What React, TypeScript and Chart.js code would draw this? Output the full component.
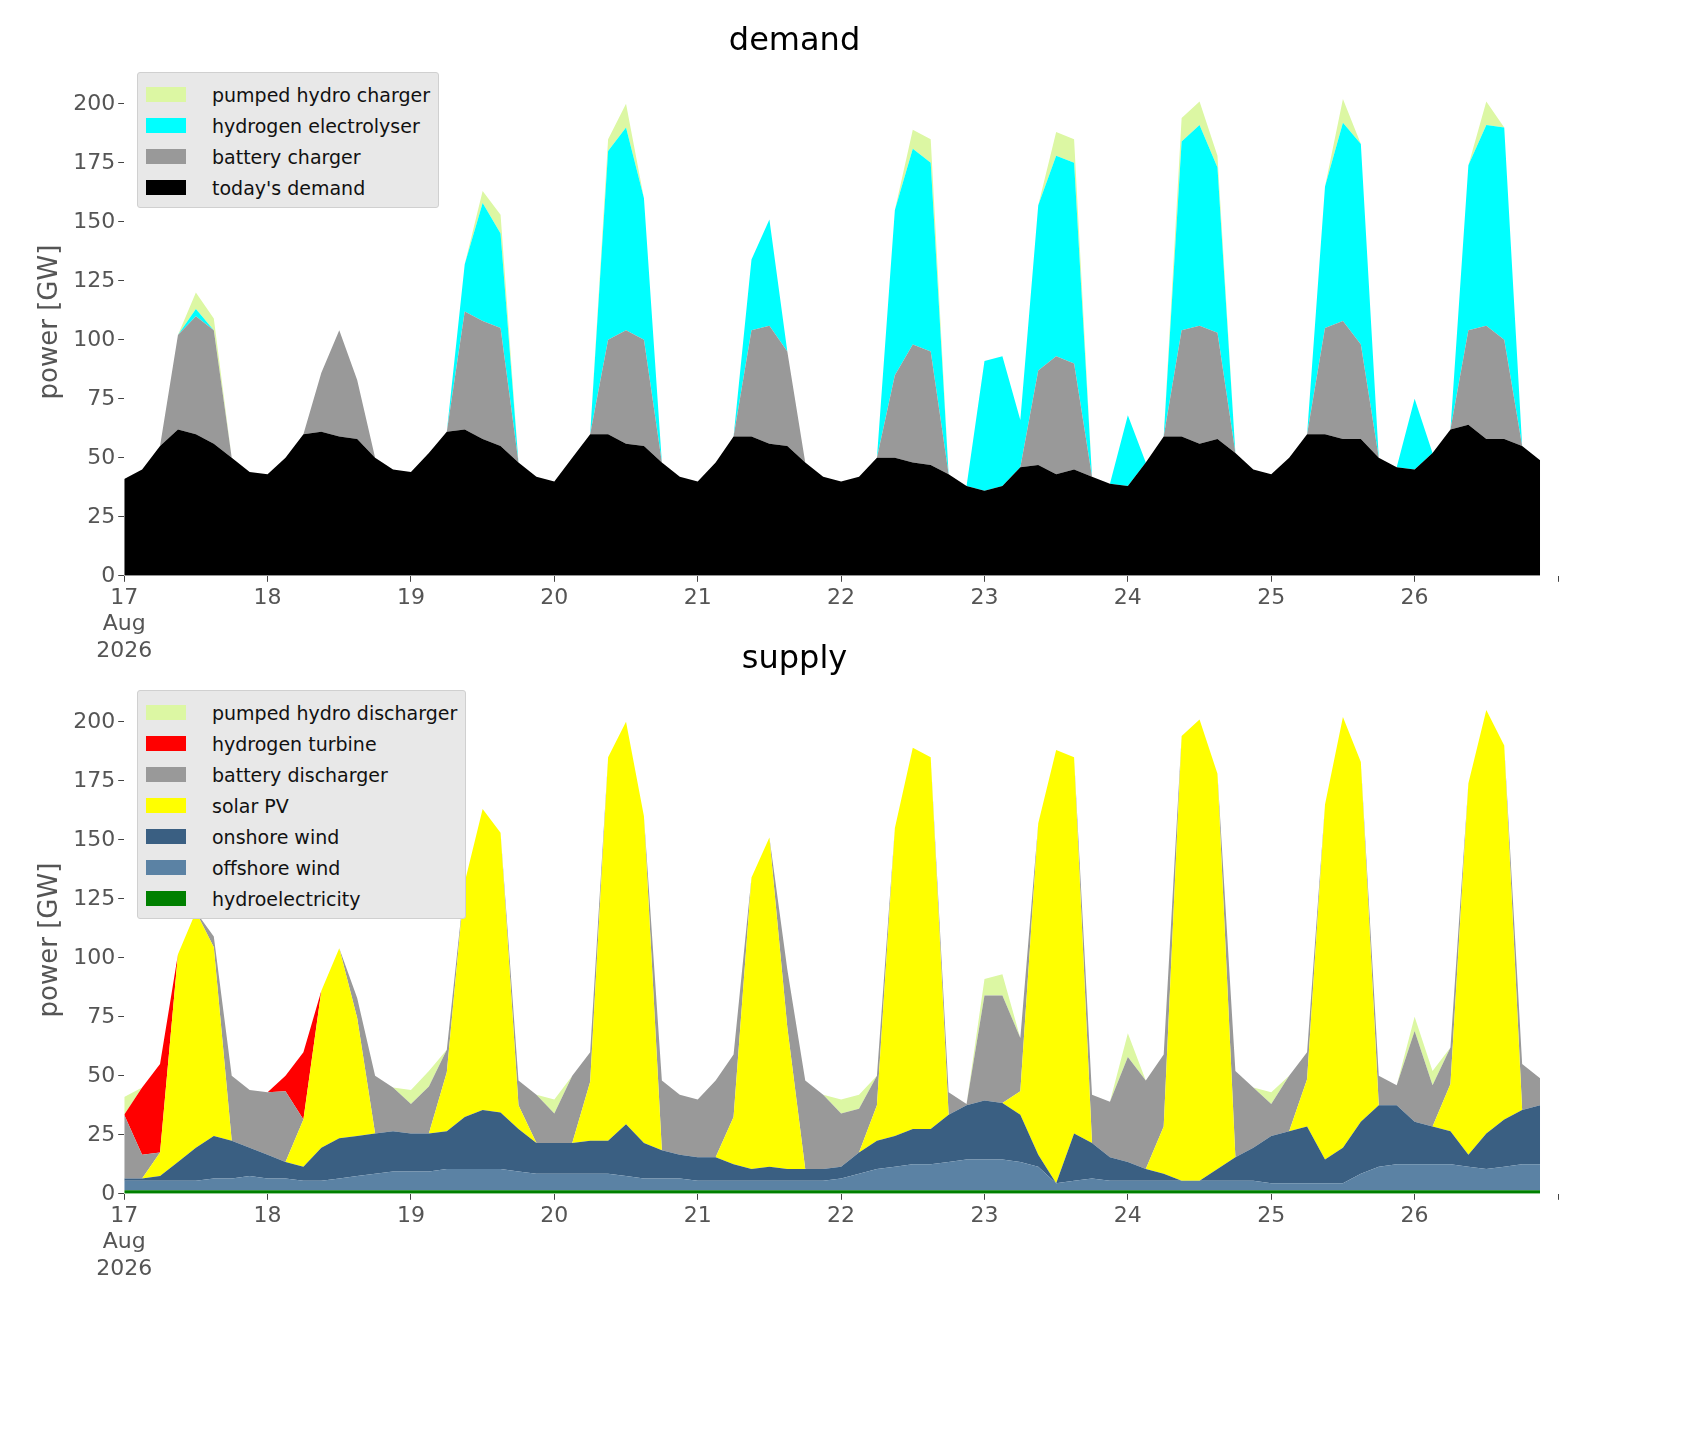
import React, { useEffect, useRef } from "react";
import { Chart, registerables } from "chart.js";
Chart.register(...registerables);

// hours since 17 Aug 2026 00:00, 3-hourly
const hours: number[] = [
  0,3,6,9,12,15,18,21, 24,27,30,33,36,39,42,45, 48,51,54,57,60,63,66,69, 72,75,78,81,84,87,90,93,
  96,99,102,105,108,111,114,117, 120,123,126,129,132,135,138,141, 144,147,150,153,156,159,162,165,
  168,171,174,177,180,183,186,189, 192,195,198,201,204,207,210,213, 216,219,222,225,228,231,234,237,
];
const dayTicks: string[] = ["17", "18", "19", "20", "21", "22", "23", "24", "25", "26"];

// demand (GW)
const todaysDemand: number[] = [
  41,45,55,62,60,56,50,44, 43,50,60,61,59,58,50,45, 44,52,61,62,58,55,48,42, 40,50,60,60,56,55,48,42,
  40,48,59,59,56,55,48,42, 40,42,50,50,48,47,43,38, 36,38,46,47,43,45,42,39, 38,48,59,59,56,58,52,45,
  43,50,60,60,58,58,50,46, 45,52,62,64,58,58,55,49,
];
const batteryCharger: number[] = [
  0,0,0,40,50,48,0,0, 0,0,0,25,45,25,0,0, 0,0,0,50,50,50,0,0, 0,0,0,40,48,45,0,0,
  0,0,0,45,50,40,0,0, 0,0,0,35,50,48,0,0, 0,0,0,40,50,45,0,0, 0,0,0,45,50,45,0,0,
  0,0,0,45,50,40,0,0, 0,0,0,40,48,42,0,0,
];
const electrolyser: number[] = [
  0,0,0,0,3,0,0,0, 0,0,0,0,0,0,0,0, 0,0,0,20,50,40,0,0, 0,0,0,80,86,60,0,0,
  0,0,0,30,45,0,0,0, 0,0,0,70,83,80,0,0, 55,55,20,70,85,85,0,0, 30,0,0,80,85,70,0,0,
  0,0,0,60,84,85,0,0, 30,0,0,70,85,90,0,0,
];
const pumpedCharger: number[] = [
  0,0,0,0,7,5,0,0, 0,0,0,0,0,0,0,0, 0,0,0,0,5,8,0,0, 0,0,0,5,10,0,0,0,
  0,0,0,0,0,0,0,0, 0,0,0,0,8,10,0,0, 0,0,0,0,10,10,0,0, 0,0,0,10,10,5,0,0,
  0,0,0,0,10,0,0,0, 0,0,0,0,10,0,0,0,
];

// supply (GW)
const hydro: number[] = [
  1.5,1.5,1.5,1.5,1.5,1.5,1.5,1.5, 1.5,1.5,1.5,1.5,1.5,1.5,1.5,1.5, 1.5,1.5,1.5,1.5,1.5,1.5,1.5,1.5,
  1.5,1.5,1.5,1.5,1.5,1.5,1.5,1.5, 1.5,1.5,1.5,1.5,1.5,1.5,1.5,1.5, 1.5,1.5,1.5,1.5,1.5,1.5,1.5,1.5,
  1.5,1.5,1.5,1.5,1.5,1.5,1.5,1.5, 1.5,1.5,1.5,1.5,1.5,1.5,1.5,1.5, 1.5,1.5,1.5,1.5,1.5,1.5,1.5,1.5,
  1.5,1.5,1.5,1.5,1.5,1.5,1.5,1.5,
];
const offshore: number[] = [
  4,4,4,4,4,5,5,6, 5,5,4,4,5,6,7,8, 8,8,9,9,9,9,8,7, 7,7,7,7,6,5,5,5,
  4,4,4,4,4,4,4,4, 5,7,9,10,11,11,12,13, 13,13,12,10,3,4,5,4, 4,4,4,4,4,4,4,4,
  3,3,3,3,3,7,10,11, 11,11,11,10,9,10,11,11,
];
const onshore: number[] = [
  1,1,2,8,14,18,16,12, 10,7,6,14,17,17,17,17, 16,16,16,22,25,24,18,13, 13,13,14,14,22,15,12,10,
  10,10,7,5,6,5,5,5, 5,9,12,13,15,15,20,23, 25,24,20,5,0,20,15,10, 8,5,3,0,0,5,10,14,
  20,22,24,10,15,22,26,25, 18,16,14,5,15,20,23,25,
];
const solar: number[] = [
  0,0,10,88,100,80,0,0, 0,0,20,66.5,80.5,50,0,0, 0,0,25,99.5,127.5,118.5,10,0, 0,0,25,162.5,170.5,138.5,0,0,
  0,0,20,123.5,139.5,60,0,0, 0,0,15,130.5,161.5,157.5,0,0, 0,0,10,140.5,183.5,159.5,0,0, 0,0,20,188.5,195.5,167.5,0,0,
  0,0,20,150.5,182.5,152.5,0,0, 0,0,20,157.5,179.5,158.5,0,0,
];
const batteryDischarger: number[] = [
  27,10,0,0,0,4.5,27.5,24.5, 26.5,30,0,0,0,8.5,24.5,18.5, 12.5,20,9.5,0,0,0,10.5,20.5, 12.5,28.5,12.5,0,0,0,29.5,25.5,
  24.5,32.5,26.5,0,0,24.5,37.5,31.5, 22.5,18.5,12.5,0,0,0,9.5,0.5, 44.5,45.5,22.5,0,0,0,20.5,23.5, 44.5,37.5,30.5,0,0,0,36.5,25.5,
  13.5,23.5,11.5,0,0,0,12.5,8.5, 38.5,17.5,15.5,0,0,0,19.5,11.5,
];
const hydrogenTurbine: number[] = [
  0,28.5,37.5,0,0,0,0,0, 0,6.5,28.5,0,0,0,0,0, 0,0,0,0,0,0,0,0, 0,0,0,0,0,0,0,0,
  0,0,0,0,0,0,0,0, 0,0,0,0,0,0,0,0, 0,0,0,0,0,0,0,0, 0,0,0,0,0,0,0,0,
  0,0,0,0,0,0,0,0, 0,0,0,0,0,0,0,0,
];
const pumpedDischarger: number[] = [
  7.5,0,0,0,0,0,0,0, 0,0,0,0,0,0,0,0, 6,6.5,0,0,0,0,0,0, 6,0,0,0,0,0,0,0,
  0,0,0,0,0,0,0,0, 6,6,0,0,0,0,0,0, 7,9,0,0,0,0,0,0, 10,0,0,0,0,0,0,0,
  5,0,0,0,0,0,0,0, 6,6,0,0,0,0,0,0,
];

const demandSeries = [
  { label: "today's demand", data: todaysDemand, color: "#000000" },
  { label: "battery charger", data: batteryCharger, color: "#999999" },
  { label: "hydrogen electrolyser", data: electrolyser, color: "#00ffff" },
  { label: "pumped hydro charger", data: pumpedCharger, color: "#dcf7a3" },
];
const supplySeries = [
  { label: "hydroelectricity", data: hydro, color: "#008000" },
  { label: "offshore wind", data: offshore, color: "#5b82a4" },
  { label: "onshore wind", data: onshore, color: "#3a5f82" },
  { label: "solar PV", data: solar, color: "#ffff00" },
  { label: "battery discharger", data: batteryDischarger, color: "#999999" },
  { label: "hydrogen turbine", data: hydrogenTurbine, color: "#ff0000" },
  { label: "pumped hydro discharger", data: pumpedDischarger, color: "#dcf7a3" },
];

type S = { label: string; data: number[]; color: string };

function StackChart({ title, series, padTop, padBottom }: { title: string; series: S[]; padTop: number; padBottom: number }) {
  const ref = useRef<HTMLCanvasElement>(null);
  useEffect(() => {
    const chart = new Chart(ref.current!, {
      type: "line",
      data: {
        datasets: series.map((s, i) => ({
          label: s.label,
          data: s.data.map((v, j) => ({ x: hours[j], y: v })),
          backgroundColor: s.color,
          borderWidth: 0,
          pointRadius: 0,
          fill: i === 0 ? "origin" : "-1",
          tension: 0,
        })),
      },
      options: {
        animation: false,
        responsive: true,
        maintainAspectRatio: false,
        layout: { padding: { top: padTop, bottom: padBottom, left: 23, right: 140 } },
        plugins: {
          legend: { display: false },
          tooltip: { enabled: false },
          title: { display: true, text: title, color: "#000", font: { size: 32, family: "DejaVu Sans", weight: "normal" }, padding: { top: 8, bottom: 8 } },
        },
        scales: {
          x: {
            type: "linear", min: 0, max: 240,
            border: { display: false },
            grid: { drawOnChartArea: false, tickLength: 6, color: "#444" },
            ticks: {
              stepSize: 24, color: "#555", font: { size: 22, family: "DejaVu Sans" }, maxRotation: 0, autoSkip: false,
              callback: (v: any) => {
                const i = Math.round(Number(v) / 24);
                if (i === 0) return ["17", "Aug", "2026"];
                return i < dayTicks.length ? dayTicks[i] : "";
              },
            },
          },
          y: {
            stacked: true, min: 0, max: 215,
            border: { display: false },
            grid: { drawOnChartArea: false, tickLength: 6, color: "#444" },
            afterBuildTicks: (axis: any) => { axis.ticks = axis.ticks.filter((t: any) => t.value <= 200 && t.value % 25 === 0); },
            ticks: { stepSize: 25, color: "#555", font: { size: 22, family: "DejaVu Sans" } },
            title: { display: true, text: "power [GW]", color: "#555", font: { size: 26, family: "DejaVu Sans" } },
          },
        },
      },
    });
    return () => chart.destroy();
  }, []);
  return <canvas ref={ref} />;
}

function Legend({ series, top }: { series: S[]; top: number }) {
  const items = [...series].reverse();
  return (
    <div style={{ position: "absolute", left: 129, top, background: "#e8e8e8", border: "1px solid #d0d0d0", borderRadius: 3, padding: "6px 8px 4px 8px", fontFamily: "DejaVu Sans", fontSize: 19, color: "#111" }}>
      {items.map((s) => (
        <div key={s.label} style={{ display: "flex", alignItems: "center", height: 31 }}>
          <div style={{ width: 40, height: 15, background: s.color, marginRight: 26 }} />
          <span>{s.label}</span>
        </div>
      ))}
    </div>
  );
}

export default function App() {
  return (
    <div style={{ position: "relative", width: 1690, height: 1415, background: "#fff" }}>
      <div style={{ position: "absolute", left: 0, top: 0, width: 1690, height: 680 }}>
        <StackChart title="demand" series={demandSeries} padTop={6} padBottom={21} />
      </div>
      <div style={{ position: "absolute", left: 0, top: 612, width: 1690, height: 700 }}>
        <StackChart title="supply" series={supplySeries} padTop={12} padBottom={35} />
      </div>
      <Legend series={demandSeries} top={64} />
      <Legend series={supplySeries} top={682} />
    </div>
  );
}
